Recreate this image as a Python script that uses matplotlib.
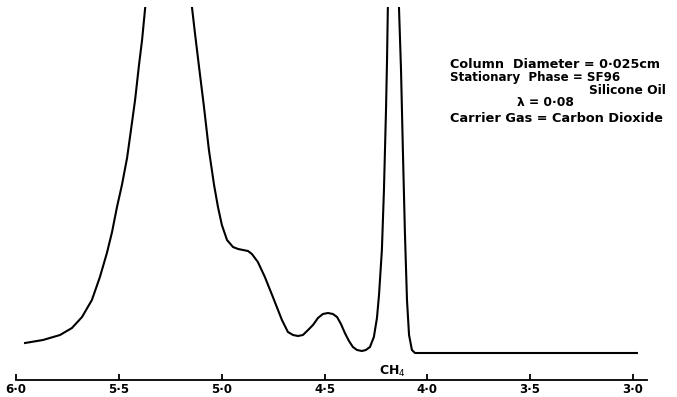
import matplotlib
matplotlib.use("Agg")
import matplotlib.pyplot as plt

# Retention axis values (reversed scale) and detector response (arbitrary units)
x_vals = [5.956, 5.869, 5.786, 5.728, 5.679, 5.631, 5.592, 5.558, 5.533, 5.509,
          5.485, 5.460, 5.441, 5.421, 5.402, 5.387, 5.373, 5.363,
          5.159, 5.144, 5.130, 5.110, 5.086, 5.062, 5.037, 5.018, 4.999, 4.974,
          4.945, 4.920, 4.896, 4.872, 4.853, 4.824, 4.790, 4.751, 4.707, 4.678, 4.653, 4.629,
          4.605, 4.580, 4.556, 4.532, 4.508, 4.483, 4.459, 4.439, 4.420, 4.401,
          4.381, 4.362, 4.342, 4.318, 4.299, 4.279, 4.260, 4.245, 4.235, 4.221,
          4.211, 4.201, 4.196, 4.192, 4.189,
          4.143, 4.138, 4.128, 4.119, 4.109, 4.099, 4.089, 4.075, 4.060, 2.981]
y_vals = [37, 40, 45, 52, 63, 80, 103, 127, 148, 173,
          195, 222, 250, 280, 315, 340, 370, 390,
          390, 372, 347, 313, 273, 230, 195, 173, 155, 140,
          133, 131, 130, 129, 126, 118, 103, 83, 60, 48, 45, 44,
          45, 50, 55, 62, 66, 67, 66, 63, 56, 47,
          39, 33, 30, 29, 30, 33, 43, 62, 85, 130,
          190, 270, 320, 373, 390,
          390, 373, 310, 230, 147, 80, 45, 30, 27, 27]

tick_vals = [6.0, 5.5, 5.0, 4.5, 4.0, 3.5, 3.0]
tick_labels = ["6·0", "5·5", "5·0", "4·5", "4·0", "3·5", "3·0"]

info_lines = ["Column  Diameter = 0·025cm",
              "Stationary  Phase = SF96",
              "Silicone Oil",
              "λ = 0·08",
              "Carrier Gas = Carbon Dioxide"]
peak_label = "CH$_4$"

W, H = 677, 397
fig = plt.figure(figsize=(W / 100, H / 100), dpi=100)
ax_left, ax_right, ax_bottom, ax_top = 16, 647, 380, 7
ax = fig.add_axes([ax_left / W, (H - ax_bottom) / H,
                   (ax_right - ax_left) / W, (ax_bottom - ax_top) / H])
ax.set_xlim(6.0, 2.932)
ax.set_ylim(0, 373)
ax.plot(x_vals, y_vals, color="black", lw=1.5, solid_joinstyle="round")

for s in ["top", "left", "right"]:
    ax.spines[s].set_visible(False)
ax.spines["bottom"].set_linewidth(1.3)
ax.set_yticks([])
ax.set_xticks(tick_vals)
ax.set_xticklabels(tick_labels, fontsize=8.5, fontweight="bold")
ax.tick_params(axis="x", direction="in", length=4, width=1.3, pad=2.5)

ax.text(4.172, 9, peak_label, ha="center", va="center", fontsize=9, fontweight="bold")

def px(xp, yp):
    return xp / W, 1 - yp / H

kw = dict(fontweight="bold", va="center")
fig.text(*px(450, 65), info_lines[0], ha="left", fontsize=9.2, **kw)
fig.text(*px(450, 78), info_lines[1], ha="left", fontsize=8.6, **kw)
fig.text(*px(589, 90), info_lines[2], ha="left", fontsize=8.8, **kw)
fig.text(*px(517, 103), info_lines[3], ha="left", fontsize=8.8, **kw)
fig.text(*px(450, 118), info_lines[4], ha="left", fontsize=9.3, **kw)

fig.savefig("out.png", dpi=100)
